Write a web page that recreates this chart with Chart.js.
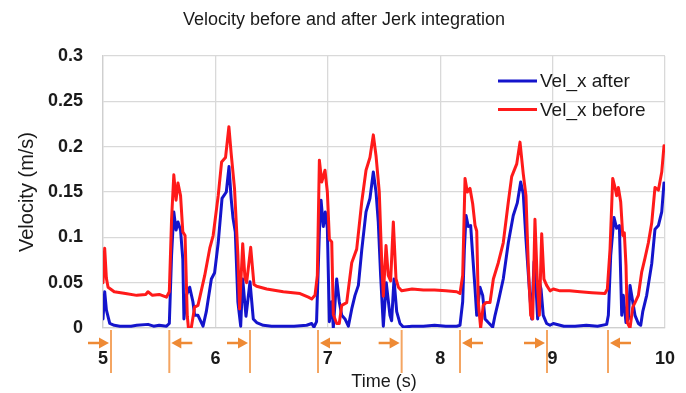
<!DOCTYPE html>
<html>
<head>
<meta charset="utf-8">
<script src="https://cdn.jsdelivr.net/npm/chart.js@4.4.1/dist/chart.umd.min.js"></script>
<style>
  body { margin: 0; background: #fff; }
</style>
</head>
<body>
<canvas id="myChart" width="686" height="393"></canvas>
<script>
// Vel_x after (blue) - time (s) and velocity (m/s)
var afterTime = [5.00, 5.015, 5.03, 5.06, 5.10, 5.15, 5.25, 5.30, 5.40, 5.45,
  5.50, 5.565, 5.59, 5.61, 5.63, 5.65, 5.667, 5.69, 5.71, 5.72,
  5.741, 5.771, 5.80, 5.815, 5.845, 5.89, 5.919, 5.964, 5.993, 6.025,
  6.059, 6.097, 6.121, 6.14, 6.157, 6.177, 6.20, 6.225, 6.243, 6.272,
  6.308, 6.337, 6.367, 6.426, 6.50, 6.60, 6.70, 6.812, 6.857, 6.877,
  6.90, 6.925, 6.94, 6.96, 6.978, 6.996, 7.014, 7.035, 7.049, 7.079,
  7.102, 7.124, 7.153, 7.183, 7.213, 7.242, 7.272, 7.302, 7.34, 7.375,
  7.405, 7.429, 7.449, 7.47, 7.494, 7.52, 7.553, 7.568, 7.589, 7.613,
  7.642, 7.672, 7.75, 7.85, 7.95, 8.05, 8.147, 8.176, 8.20, 8.215,
  8.23, 8.25, 8.271, 8.289, 8.31, 8.325, 8.354, 8.378, 8.399, 8.428,
  8.467, 8.488, 8.517, 8.561, 8.606, 8.65, 8.686, 8.716, 8.739, 8.763,
  8.793, 8.814, 8.835, 8.85, 8.867, 8.882, 8.897, 8.917, 8.947, 8.977,
  9.006, 9.10, 9.20, 9.30, 9.40, 9.481, 9.496, 9.517, 9.546, 9.57,
  9.594, 9.615, 9.629, 9.653, 9.674, 9.689, 9.713, 9.733, 9.763, 9.784,
  9.802, 9.837, 9.882, 9.911, 9.941, 9.971, 9.991];
var afterVel = [0.010, 0.040, 0.020, 0.005, 0.003, 0.002, 0.002, 0.003, 0.004, 0.002,
  0.003, 0.002, 0.005, 0.080, 0.128, 0.108, 0.117, 0.108, 0.076, 0.010,
  0.036, 0.045, 0.029, 0.014, 0.014, 0.002, 0.018, 0.054, 0.061, 0.094,
  0.143, 0.150, 0.178, 0.143, 0.121, 0.106, 0.029, 0.002, 0.054, 0.013,
  0.051, 0.010, 0.006, 0.003, 0.002, 0.002, 0.002, 0.003, 0.005, 0.001,
  0.007, 0.106, 0.141, 0.112, 0.128, 0.110, 0.007, 0.029, 0.000, 0.054,
  0.029, 0.014, 0.010, 0.002, 0.021, 0.036, 0.047, 0.086, 0.128, 0.143,
  0.172, 0.150, 0.117, 0.058, 0.002, 0.050, 0.014, 0.008, 0.054, 0.018,
  0.005, 0.001, 0.002, 0.002, 0.003, 0.002, 0.002, 0.003, 0.029, 0.087,
  0.124, 0.112, 0.113, 0.080, 0.043, 0.014, 0.045, 0.036, 0.010, 0.006,
  0.001, 0.014, 0.029, 0.054, 0.094, 0.124, 0.138, 0.161, 0.148, 0.098,
  0.043, 0.010, 0.073, 0.051, 0.010, 0.051, 0.043, 0.014, 0.005, 0.003,
  0.005, 0.002, 0.002, 0.003, 0.002, 0.004, 0.014, 0.080, 0.122, 0.110,
  0.113, 0.014, 0.036, 0.006, 0.010, 0.047, 0.029, 0.014, 0.005, 0.003,
  0.018, 0.036, 0.071, 0.109, 0.113, 0.128, 0.160];

// Vel_x before (red)
var beforeTime = [5.00, 5.015, 5.03, 5.045, 5.10, 5.20, 5.30, 5.38, 5.40, 5.44,
  5.50, 5.565, 5.59, 5.61, 5.63, 5.65, 5.667, 5.69, 5.71, 5.73,
  5.75, 5.76, 5.785, 5.815, 5.845, 5.905, 5.95, 5.98, 6.025, 6.055,
  6.09, 6.12, 6.14, 6.17, 6.20, 6.215, 6.243, 6.263, 6.278, 6.314,
  6.343, 6.367, 6.456, 6.604, 6.753, 6.827, 6.857, 6.886, 6.907, 6.925,
  6.946, 6.975, 6.996, 7.014, 7.035, 7.049, 7.079, 7.102, 7.124, 7.168,
  7.213, 7.257, 7.302, 7.34, 7.375, 7.405, 7.429, 7.458, 7.48, 7.494,
  7.518, 7.538, 7.559, 7.583, 7.607, 7.628, 7.657, 7.75, 7.85, 7.95,
  8.05, 8.147, 8.176, 8.20, 8.221, 8.241, 8.265, 8.289, 8.31, 8.325,
  8.339, 8.36, 8.383, 8.407, 8.443, 8.473, 8.517, 8.561, 8.606, 8.636,
  8.681, 8.71, 8.739, 8.763, 8.784, 8.805, 8.823, 8.843, 8.864, 8.882,
  8.903, 8.923, 8.947, 8.977, 9.006, 9.066, 9.15, 9.244, 9.35, 9.466,
  9.487, 9.511, 9.535, 9.555, 9.57, 9.585, 9.606, 9.624, 9.638, 9.653,
  9.665, 9.689, 9.713, 9.733, 9.763, 9.793, 9.822, 9.852, 9.882, 9.911,
  9.941, 9.971, 9.991];
var beforeVel = [0.050, 0.088, 0.055, 0.045, 0.040, 0.038, 0.036, 0.037, 0.040, 0.036,
  0.037, 0.034, 0.040, 0.120, 0.169, 0.141, 0.160, 0.146, 0.106, 0.102,
  0.013, 0.000, 0.000, 0.023, 0.025, 0.058, 0.088, 0.102, 0.146, 0.183,
  0.188, 0.222, 0.193, 0.154, 0.081, 0.021, 0.093, 0.055, 0.050, 0.089,
  0.048, 0.046, 0.043, 0.040, 0.038, 0.034, 0.032, 0.036, 0.058, 0.185,
  0.161, 0.174, 0.150, 0.098, 0.095, 0.015, 0.005, 0.005, 0.025, 0.028,
  0.072, 0.087, 0.139, 0.174, 0.188, 0.213, 0.190, 0.150, 0.072, 0.035,
  0.091, 0.058, 0.052, 0.117, 0.054, 0.045, 0.041, 0.043, 0.042, 0.042,
  0.041, 0.040, 0.038, 0.058, 0.165, 0.150, 0.154, 0.137, 0.113, 0.107,
  0.028, 0.000, 0.025, 0.028, 0.028, 0.054, 0.072, 0.094, 0.139, 0.167,
  0.181, 0.205, 0.170, 0.146, 0.069, 0.014, 0.010, 0.120, 0.051, 0.014,
  0.104, 0.054, 0.047, 0.041, 0.043, 0.041, 0.041, 0.040, 0.039, 0.038,
  0.043, 0.087, 0.165, 0.155, 0.146, 0.155, 0.139, 0.102, 0.105, 0.069,
  0.006, 0.000, 0.023, 0.028, 0.036, 0.062, 0.077, 0.094, 0.116, 0.155,
  0.152, 0.172, 0.201];

// orange markers under the time axis: time and arrow direction (1 = points right, -1 = points left)
var markerTimes = [5.071, 5.59, 6.308, 6.913, 7.657, 8.176, 8.95, 9.493];
var markerDirs = [1, -1, 1, -1, 1, -1, 1, -1];

var chartTitle = 'Velocity before and after Jerk integration';
var seriesLabels = ['Vel_x after', 'Vel_x before'];
var seriesColors = ['#1414cc', '#ff1a1a'];

function toPoints(times, vals) {
  return times.map(function (t, i) { return { x: t, y: vals[i] }; });
}

var FONT = "'Liberation Sans', Arial, sans-serif";

// title centred on the whole canvas (the built-in one is shifted by the right padding)
const titlePlugin = {
  id: 'pageTitle',
  afterDraw(chart) {
    const c = chart.ctx;
    c.save();
    c.font = '18px ' + FONT;
    c.fillStyle = '#1a1a1a';
    c.textAlign = 'center';
    c.textBaseline = 'middle';
    c.fillText(chartTitle, chart.width / 2 + 1, 20);
    c.restore();
  }
};

// legend drawn inside the plot, top right
const legendPlugin = {
  id: 'insideLegend',
  afterDatasetsDraw(chart) {
    const { ctx, chartArea } = chart;
    ctx.save();
    ctx.font = '19px ' + FONT;
    ctx.textBaseline = 'middle';
    chart.data.datasets.forEach(function (ds, i) {
      const y = chartArea.top + 25 + i * 28.6;
      const x0 = chartArea.right - 167;
      ctx.strokeStyle = ds.borderColor;
      ctx.lineWidth = 3;
      ctx.beginPath();
      ctx.moveTo(x0, y);
      ctx.lineTo(x0 + 39, y);
      ctx.stroke();
      ctx.fillStyle = '#1a1a1a';
      ctx.fillText(ds.label, x0 + 42, y + 1);
    });
    ctx.restore();
  }
};

// orange lines and arrows under the x axis
const markerPlugin = {
  id: 'markers',
  afterDraw(chart) {
    const { ctx, chartArea } = chart;
    const x = chart.scales.x;
    const yTop = chartArea.bottom + 2;
    const yBot = chartArea.bottom + 45;
    const yArr = chartArea.bottom + 15;
    ctx.save();
    markerTimes.forEach(function (t, i) {
      const px = x.getPixelForValue(t);
      const dir = markerDirs[i];
      ctx.strokeStyle = '#f4a562';
      ctx.lineWidth = 2;
      ctx.beginPath();
      ctx.moveTo(px, yTop);
      ctx.lineTo(px, yBot);
      ctx.stroke();
      const tip = px - dir * 2;
      const tail = px - dir * 23;
      ctx.strokeStyle = '#ee8a35';
      ctx.fillStyle = '#ee8a35';
      ctx.lineWidth = 2.5;
      ctx.beginPath();
      ctx.moveTo(tail, yArr);
      ctx.lineTo(tip - dir * 6, yArr);
      ctx.stroke();
      ctx.beginPath();
      ctx.moveTo(tip, yArr);
      ctx.lineTo(tip - dir * 10, yArr - 5.5);
      ctx.lineTo(tip - dir * 10, yArr + 5.5);
      ctx.closePath();
      ctx.fill();
    });
    ctx.restore();
  }
};

const ctx = document.getElementById('myChart').getContext('2d');
const myChart = new Chart(ctx, {
  type: 'line',
  data: {
    datasets: [
      {
        label: seriesLabels[0],
        data: toPoints(afterTime, afterVel),
        borderColor: seriesColors[0],
        borderWidth: 3,
        order: 1,
      },
      {
        label: seriesLabels[1],
        data: toPoints(beforeTime, beforeVel),
        borderColor: seriesColors[1],
        borderWidth: 3,
        order: 0,
      },
    ],
  },
  options: {
    responsive: false,
    animation: false,
    devicePixelRatio: 1,
    elements: {
      point: { radius: 0 },
      line: { tension: 0, fill: false, borderJoinStyle: 'round', borderCapStyle: 'round' },
    },
    layout: { padding: { left: 0, right: 21, top: 56, bottom: 0 } },
    plugins: {
      legend: { display: false },
      tooltip: { enabled: false },
      title: { display: false },
    },
    scales: {
      x: {
        type: 'linear',
        min: 5,
        max: 10,
        afterFit: function (scale) {
          scale.height = 65;
          // tick padding would otherwise widen the right margin
          scale.paddingLeft = 0;
          scale.paddingRight = 0;
        },
        ticks: {
          stepSize: 1,
          padding: 20,
          color: '#1a1a1a',
          font: { family: FONT, size: 18, weight: 'bold' },
        },
        grid: { color: '#d9d9d9', lineWidth: 1.3, drawTicks: false },
        border: { color: '#cfcfcf', width: 1.3 },
        title: {
          display: true,
          text: 'Time (s)',
          color: '#1a1a1a',
          font: { family: FONT, size: 18, weight: 'normal' },
          padding: { top: 0, bottom: 0 },
        },
      },
      y: {
        min: 0,
        max: 0.3,
        afterFit: function (scale) { scale.width = 103; },
        ticks: {
          stepSize: 0.05,
          padding: 20,
          color: '#1a1a1a',
          font: { family: FONT, size: 18, weight: 'bold' },
          callback: function (v) { return String(+v.toFixed(2)); },
        },
        grid: { color: '#d9d9d9', lineWidth: 1.3, drawTicks: false },
        border: { color: '#cfcfcf', width: 1.3 },
        title: {
          display: true,
          text: 'Velocity (m/s)',
          color: '#1a1a1a',
          font: { family: FONT, size: 20, weight: 'normal' },
          padding: { top: 15, bottom: 0 },
        },
      },
    },
  },
  plugins: [titlePlugin, legendPlugin, markerPlugin],
});
</script>
</body>
</html>
